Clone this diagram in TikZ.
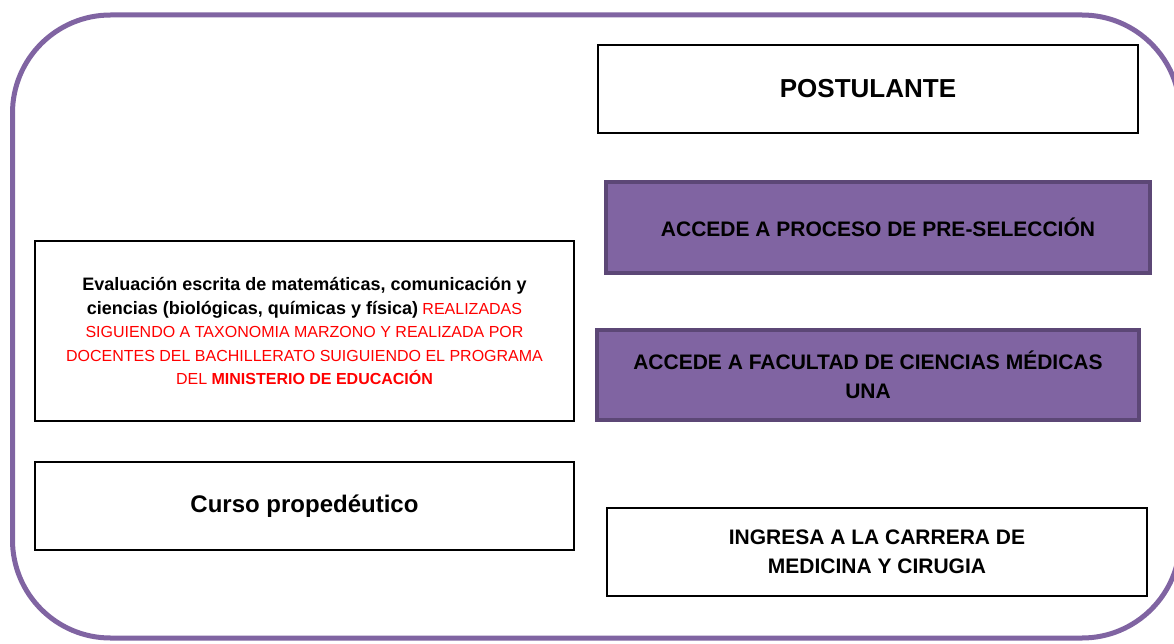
\documentclass[tikz,border=0pt]{standalone}
\usepackage{fontspec}
\setmainfont{Liberation Sans}
\definecolor{purp}{HTML}{8064A2}
\definecolor{purpdark}{HTML}{5C4776}
\definecolor{redtxt}{HTML}{FF0000}
\begin{document}
\begin{tikzpicture}[x=1pt,y=-1pt,
  whitebox/.style={draw=black, line width=1.8pt, fill=white, inner sep=0pt, align=center},
  purplebox/.style={draw=purpdark, line width=4pt, fill=purp, inner sep=0pt, align=center},
  bigtxt/.style={font=\bfseries\fontsize{21}{29}\selectfont}
]
\useasboundingbox (0,0) rectangle (1174,644);
\draw[line width=5pt, draw=purp, rounded corners=98pt] (12.5,15) rectangle (1180,638);

\node[whitebox, minimum width=540pt, minimum height=88pt, font=\bfseries\fontsize{26}{30}\selectfont] (post) at (868,89) {POSTULANTE};

\node[purplebox, minimum width=544pt, minimum height=91pt, bigtxt] (pre) at (878,227.5) {ACCEDE A PROCESO DE PRE-SELECCIÓN};

\node[purplebox, minimum width=542pt, minimum height=90pt, bigtxt] (fac) at (868,375) {ACCEDE A FACULTAD DE CIENCIAS MÉDICAS\\UNA};

\node[whitebox, minimum width=539pt, minimum height=180pt, font=\fontsize{16}{23.5}\selectfont] (eval) at (304.5,331)
{{\bfseries\fontsize{18}{23.5}\selectfont Evaluación escrita de matemáticas, comunicación y}\\
{\bfseries\fontsize{18}{23.5}\selectfont ciencias (biológicas, químicas y física)} \textcolor{redtxt}{REALIZADAS}\\
\textcolor{redtxt}{SIGUIENDO A TAXONOMIA MARZONO Y REALIZADA POR}\\
\textcolor{redtxt}{DOCENTES DEL BACHILLERATO SUIGUIENDO EL PROGRAMA}\\
\textcolor{redtxt}{DEL \textbf{MINISTERIO DE EDUCACIÓN}}};

\node[whitebox, minimum width=539pt, minimum height=88pt, font=\bfseries\fontsize{24}{28}\selectfont] (curso) at (304.5,506) {Curso propedéutico};

\node[whitebox, minimum width=540pt, minimum height=88pt, bigtxt] (ing) at (877,552) {INGRESA A LA CARRERA DE\\MEDICINA Y CIRUGIA};
\end{tikzpicture}
\end{document}
